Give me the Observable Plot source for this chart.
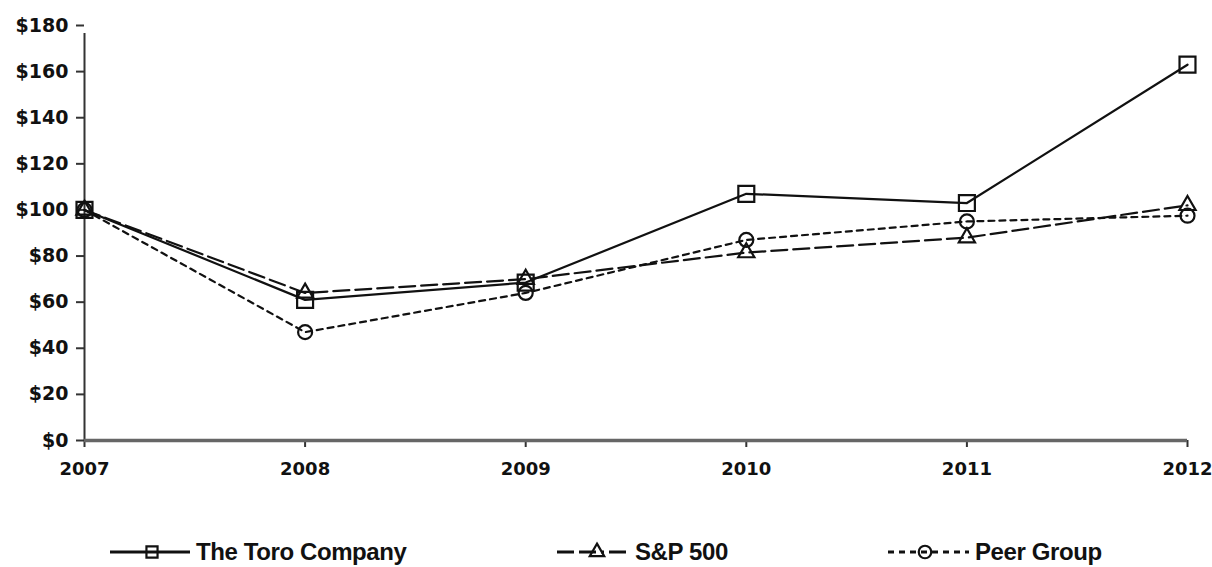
<!DOCTYPE html>
<html>
<head>
<meta charset="utf-8">
<script src="https://cdn.jsdelivr.net/npm/d3@7"></script>
<script src="https://cdn.jsdelivr.net/npm/@observablehq/plot@0.6"></script>
<style>
  html, body { margin: 0; padding: 0; background: #fff; }
  #chart { width: 1212px; height: 490px; }
  .legend { position: relative; height: 77px; width: 1212px; font-family: "Liberation Sans", Arial, sans-serif; font-weight: bold; font-size: 24px; color: #111; letter-spacing: -0.4px; }
  .item { position: absolute; top: 48px; height: 28px; display: flex; align-items: center; }
  .item svg { display: block; }
</style>
</head>
<body>
<div id="chart"></div>
<div class="legend" id="legend"></div>
<script>
const years = [2007, 2008, 2009, 2010, 2011, 2012];
const toro = [100, 61, 68.5, 107, 103, 163];
const sp500 = [100, 64, 70, 81.5, 88, 102];
const peer = [100, 47, 64, 87, 95, 97.5];
const seriesNames = ["The Toro Company", "S&P 500", "Peer Group"];
const yTicks = [0, 20, 40, 60, 80, 100, 120, 140, 160, 180];

const styles = {
  "The Toro Company": {dash: null, legendDash: null, symbol: "square", r: 9, lr: 7},
  "S&P 500": {dash: "16,6", legendDash: "17,5,17,5,3,5", symbol: "triangle", r: 6, lr: 6},
  "Peer Group": {dash: "6,5", legendDash: "6,5", symbol: "circle", r: 7, lr: 7}
};

const rows = [];
[toro, sp500, peer].forEach((vals, i) => {
  vals.forEach((v, j) => rows.push({series: seriesNames[i], year: years[j], value: v}));
});

const lineMarks = seriesNames.map(name => Plot.line(rows.filter(d => d.series === name), {
  x: "year", y: "value", stroke: "#111", strokeWidth: 2.2,
  strokeDasharray: styles[name].dash
}));
const dotMarks = seriesNames.map(name => Plot.dot(rows.filter(d => d.series === name), {
  x: "year", y: "value", symbol: () => styles[name].symbol, r: styles[name].r,
  stroke: "#111", strokeWidth: 2.2, fill: "none"
}));

const chart = Plot.plot({
  width: 1212,
  height: 490,
  marginLeft: 84,
  marginRight: 25,
  marginTop: 25,
  marginBottom: 50,
  style: {fontFamily: "DejaVu Sans, sans-serif", fontWeight: "bold", color: "#111", background: "#fff"},
  x: {domain: [2007, 2012]},
  y: {domain: [0, 180]},
  symbol: {type: "identity"},
  marks: [
    Plot.axisY({ticks: yTicks, tickFormat: d => "$" + d, tickSize: 8, tickPadding: 8, fontSize: 19, fontWeight: "bold", label: null, stroke: "#333", strokeWidth: 2}),
    Plot.axisX({ticks: years, tickFormat: d => String(d), tickSize: 7, tickPadding: 15, fontSize: 18, fontWeight: "bold", label: null, stroke: "#333", strokeWidth: 2}),
    Plot.ruleX([2007], {stroke: "#333", strokeWidth: 2, y1: 0, y2: 180, insetBottom: -8}),
    Plot.ruleY([0], {stroke: "#666", strokeWidth: 3.5}),
    ...lineMarks,
    ...dotMarks
  ]
});
document.getElementById("chart").appendChild(chart);

// Legend
const legendLayout = {
  "The Toro Company": {left: 110, w: 86, sx: 42},
  "S&P 500": {left: 557, w: 78, sx: 40},
  "Peer Group": {left: 888, w: 87, sx: 37}
};
const legend = d3.select("#legend");
seriesNames.forEach(name => {
  const L = legendLayout[name];
  const st = styles[name];
  const item = legend.append("div").attr("class", "item").style("left", L.left + "px");
  const s = item.append("svg").attr("width", L.w).attr("height", 28);
  s.append("line").attr("x1", 0).attr("x2", L.w - 6).attr("y1", 14).attr("y2", 14)
    .attr("stroke", "#111").attr("stroke-width", 3)
    .attr("stroke-dasharray", st.legendDash);
  const sym = {square: d3.symbolSquare, triangle: d3.symbolTriangle, circle: d3.symbolCircle}[st.symbol];
  s.append("path").attr("transform", `translate(${L.sx},14)`)
    .attr("d", d3.symbol(sym, Math.PI * st.lr * st.lr * 0.8)())
    .attr("fill", "none").attr("stroke", "#111").attr("stroke-width", 2.2);
  item.append("span").text(name);
});
</script>
</body>
</html>
